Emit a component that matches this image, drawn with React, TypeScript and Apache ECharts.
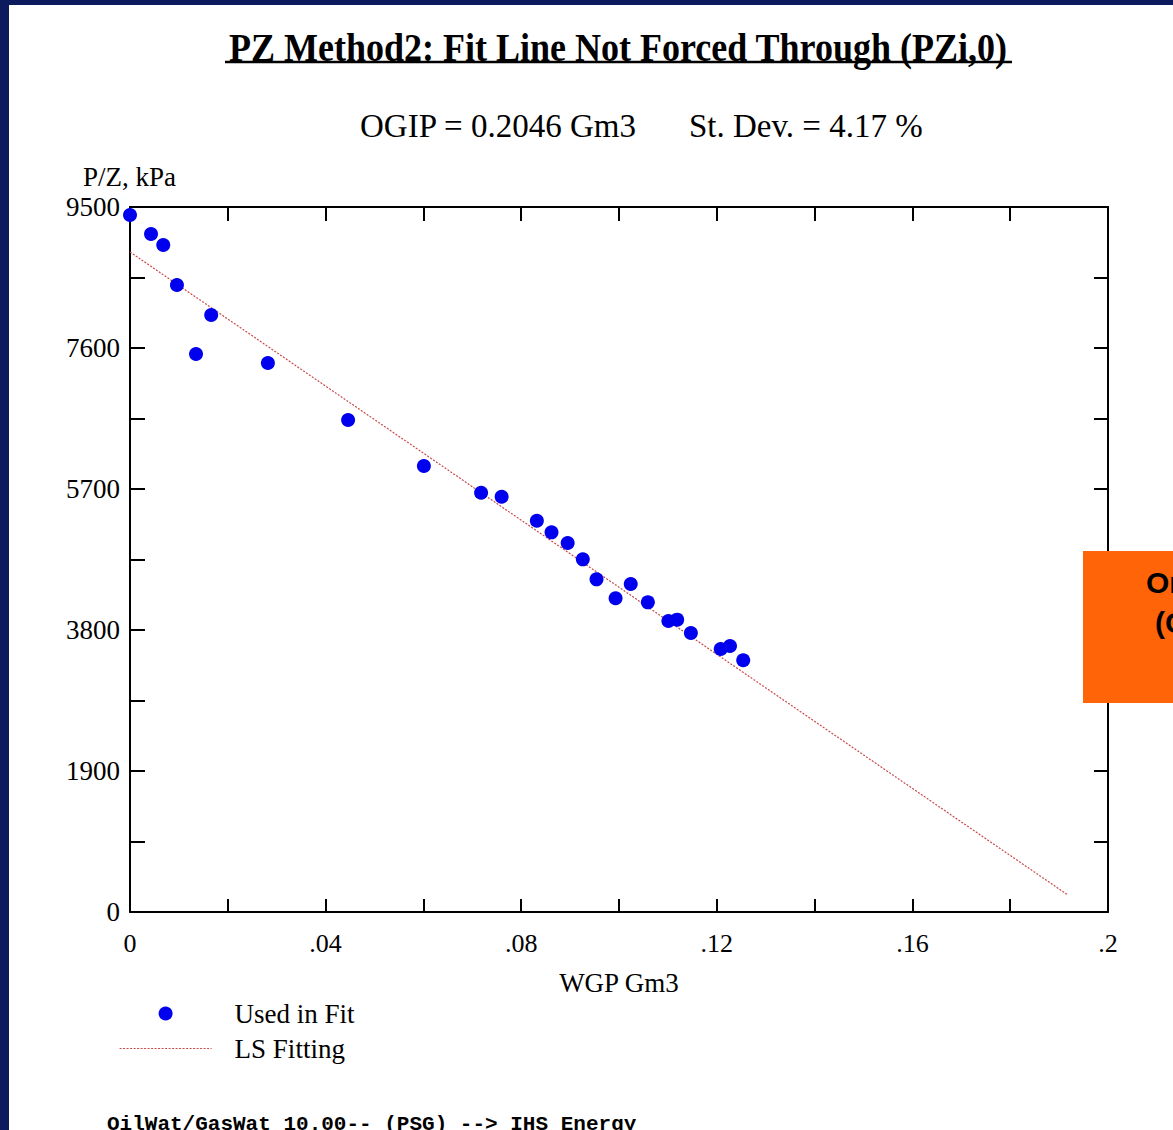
import React, { useEffect, useRef } from "react";
import * as echarts from "echarts";

// WGP (Gm3) for each point used in the fit
const wgp = [
  0.0, 0.0043, 0.0068, 0.0096, 0.0166, 0.0135, 0.0282, 0.0446, 0.0601, 0.0718,
  0.076, 0.0832, 0.0862, 0.0895, 0.0926, 0.0954, 0.0993, 0.1024, 0.1059, 0.1101,
  0.1119, 0.1147, 0.1208, 0.1227, 0.1254,
];
// P/Z (kPa) for each point
const pz = [
  9392, 9136, 8988, 8449, 8045, 7519, 7398, 6630, 6010, 5650,
  5596, 5273, 5116, 4972, 4752, 4483, 4227, 4420, 4173, 3921,
  3939, 3760, 3544, 3584, 3392,
];
// LS fitting line end points
const fitX = [0, 0.1918];
const fitY = [8894, 229];

const titleText = "PZ Method2: Fit Line Not Forced Through (PZi,0)";
const ogipText = "OGIP = 0.2046 Gm3";
const stdevText = "St. Dev. = 4.17 %";
const yAxisTitle = "P/Z, kPa";
const xAxisTitle = "WGP Gm3";
const legendNames = ["Used in Fit", "LS Fitting"];
const footerText = "OilWat/GasWat 10.00-- (PSG) --> IHS Energy";
const overlayLines = ["Or", "(C"];

const SERIF = "'Liberation Serif', 'Times New Roman', serif";
const FIT_COLOR = "#c84a4a";
const FIT_LINE = { color: FIT_COLOR, width: 1.2, type: [2, 1.5] };

export default function App() {
  const ref = useRef<HTMLDivElement>(null);

  useEffect(() => {
    if (!ref.current) return;
    const chart = echarts.init(ref.current, null, { renderer: "svg" });

    const xFmt = (v: number) => {
      const k = Math.round(v / 0.02);
      if (k % 2 !== 0) return "";
      return parseFloat((k * 0.02).toFixed(2)).toString().replace(/^0\./, ".");
    };
    const yFmt = (v: number) => {
      const k = Math.round(v / 950);
      if (k % 2 !== 0) return "";
      return String(k * 950);
    };

    const axisLine = { show: true, onZero: false, lineStyle: { color: "#000", width: 2 } };
    const navy = "#0b1b5e";

    chart.setOption({
      animation: false,
      backgroundColor: "#ffffff",
      grid: {
        left: 130,
        right: 65,
        top: 207,
        bottom: 218,
        containLabel: false,
        outerBoundsMode: "none",
      },
      xAxis: [
        {
          type: "value",
          min: 0,
          max: 0.2,
          interval: 0.02,
          position: "bottom",
          axisLine,
          axisTick: { show: true, inside: true, length: 13, lineStyle: { color: "#000", width: 2 } },
          axisLabel: {
            formatter: xFmt,
            fontSize: 26,
            fontFamily: SERIF,
            color: "#000",
            margin: 18,
            showMinLabel: true,
            showMaxLabel: true,
          },
          splitLine: { show: false },
          name: xAxisTitle,
          nameLocation: "middle",
          nameGap: 57,
          nameTextStyle: { fontSize: 27, fontFamily: SERIF, color: "#000" },
        },
        {
          type: "value",
          min: 0,
          max: 0.2,
          interval: 0.02,
          position: "top",
          axisLine,
          axisTick: { show: true, inside: true, length: 14, lineStyle: { color: "#000", width: 2 } },
          axisLabel: { show: false },
          splitLine: { show: false },
        },
      ],
      yAxis: [
        {
          type: "value",
          min: 0,
          max: 9500,
          interval: 950,
          position: "left",
          axisLine,
          axisTick: { show: true, inside: true, length: 15, lineStyle: { color: "#000", width: 2 } },
          axisLabel: {
            formatter: yFmt,
            fontSize: 27,
            fontFamily: SERIF,
            color: "#000",
            margin: 10,
            showMinLabel: true,
            showMaxLabel: true,
          },
          splitLine: { show: false },
        },
        {
          type: "value",
          min: 0,
          max: 9500,
          interval: 950,
          position: "right",
          axisLine,
          axisTick: { show: true, inside: true, length: 14, lineStyle: { color: "#000", width: 2 } },
          axisLabel: { show: false },
          splitLine: { show: false },
        },
      ],
      legend: {
        data: [
          { name: legendNames[0] },
          {
            name: legendNames[1],
            itemStyle: { color: "rgba(0,0,0,0)", borderWidth: 0, opacity: 0 },
            lineStyle: FIT_LINE,
          },
        ],
        orient: "vertical",
        left: 114,
        top: 995,
        itemWidth: 92,
        itemHeight: 14,
        itemGap: 8,
        selectedMode: false,
        textStyle: {
          fontSize: 27,
          fontFamily: SERIF,
          color: "#000",
          padding: [0, 0, 0, 18],
        },
      },
      series: [
        {
          name: legendNames[1],
          type: "line",
          data: fitX.map((x, i) => [x, fitY[i]]),
          symbol: "none",
          showSymbol: false,
          lineStyle: FIT_LINE,
          itemStyle: { color: FIT_COLOR },
          z: 2,
          silent: true,
        },
        {
          name: legendNames[0],
          type: "scatter",
          data: wgp.map((x, i) => [x, pz[i]]),
          symbol: "circle",
          symbolSize: 14,
          itemStyle: { color: "#0000ee", opacity: 1 },
          clip: false,
          z: 3,
        },
      ],
      graphic: [
        { type: "rect", shape: { x: 0, y: 0, width: 1173, height: 5 }, style: { fill: navy }, silent: true },
        { type: "rect", shape: { x: 0, y: 0, width: 9, height: 1130 }, style: { fill: navy }, silent: true },
        {
          type: "text",
          x: 618,
          y: 47,
          scaleX: 0.9,
          style: {
            text: titleText,
            fontSize: 40,
            fontWeight: "bold",
            fontFamily: SERIF,
            fill: "#000",
            align: "center",
            verticalAlign: "middle",
          },
        },
        {
          type: "line",
          shape: { x1: 225, y1: 62, x2: 1012, y2: 62 },
          style: { stroke: "#000", lineWidth: 2.5 },
        },
        {
          type: "text",
          x: 360,
          y: 126,
          style: { text: ogipText, fontSize: 33, fontFamily: SERIF, fill: "#000", align: "left", verticalAlign: "middle" },
        },
        {
          type: "text",
          x: 689,
          y: 126,
          style: { text: stdevText, fontSize: 33, fontFamily: SERIF, fill: "#000", align: "left", verticalAlign: "middle" },
        },
        {
          type: "text",
          x: 83,
          y: 177,
          style: { text: yAxisTitle, fontSize: 27, fontFamily: SERIF, fill: "#000", align: "left", verticalAlign: "middle" },
        },
        {
          type: "rect",
          shape: { x: 1083, y: 551, width: 90, height: 152 },
          style: { fill: "#ff6409" },
          z: 10,
        },
        {
          type: "text",
          x: 1146,
          y: 582,
          z: 11,
          style: {
            text: overlayLines[0],
            fontSize: 30,
            fontWeight: "bold",
            fontFamily: "'Liberation Sans', Arial, sans-serif",
            fill: "#000",
            align: "left",
            verticalAlign: "middle",
          },
        },
        {
          type: "text",
          x: 1155,
          y: 622,
          z: 11,
          style: {
            text: overlayLines[1],
            fontSize: 30,
            fontWeight: "bold",
            fontFamily: "'Liberation Sans', Arial, sans-serif",
            fill: "#000",
            align: "left",
            verticalAlign: "middle",
          },
        },
        {
          type: "text",
          x: 107,
          y: 1124,
          style: {
            text: footerText,
            fontSize: 21,
            fontWeight: "bold",
            fontFamily: "'Liberation Mono', 'Courier New', monospace",
            fill: "#000",
            align: "left",
            verticalAlign: "middle",
          },
        },
      ],
    });

    return () => {
      chart.dispose();
    };
  }, []);

  return (
    <div
      ref={ref}
      style={{ position: "absolute", left: 0, top: 0, width: 1173, height: 1130, background: "#fff" }}
    />
  );
}
